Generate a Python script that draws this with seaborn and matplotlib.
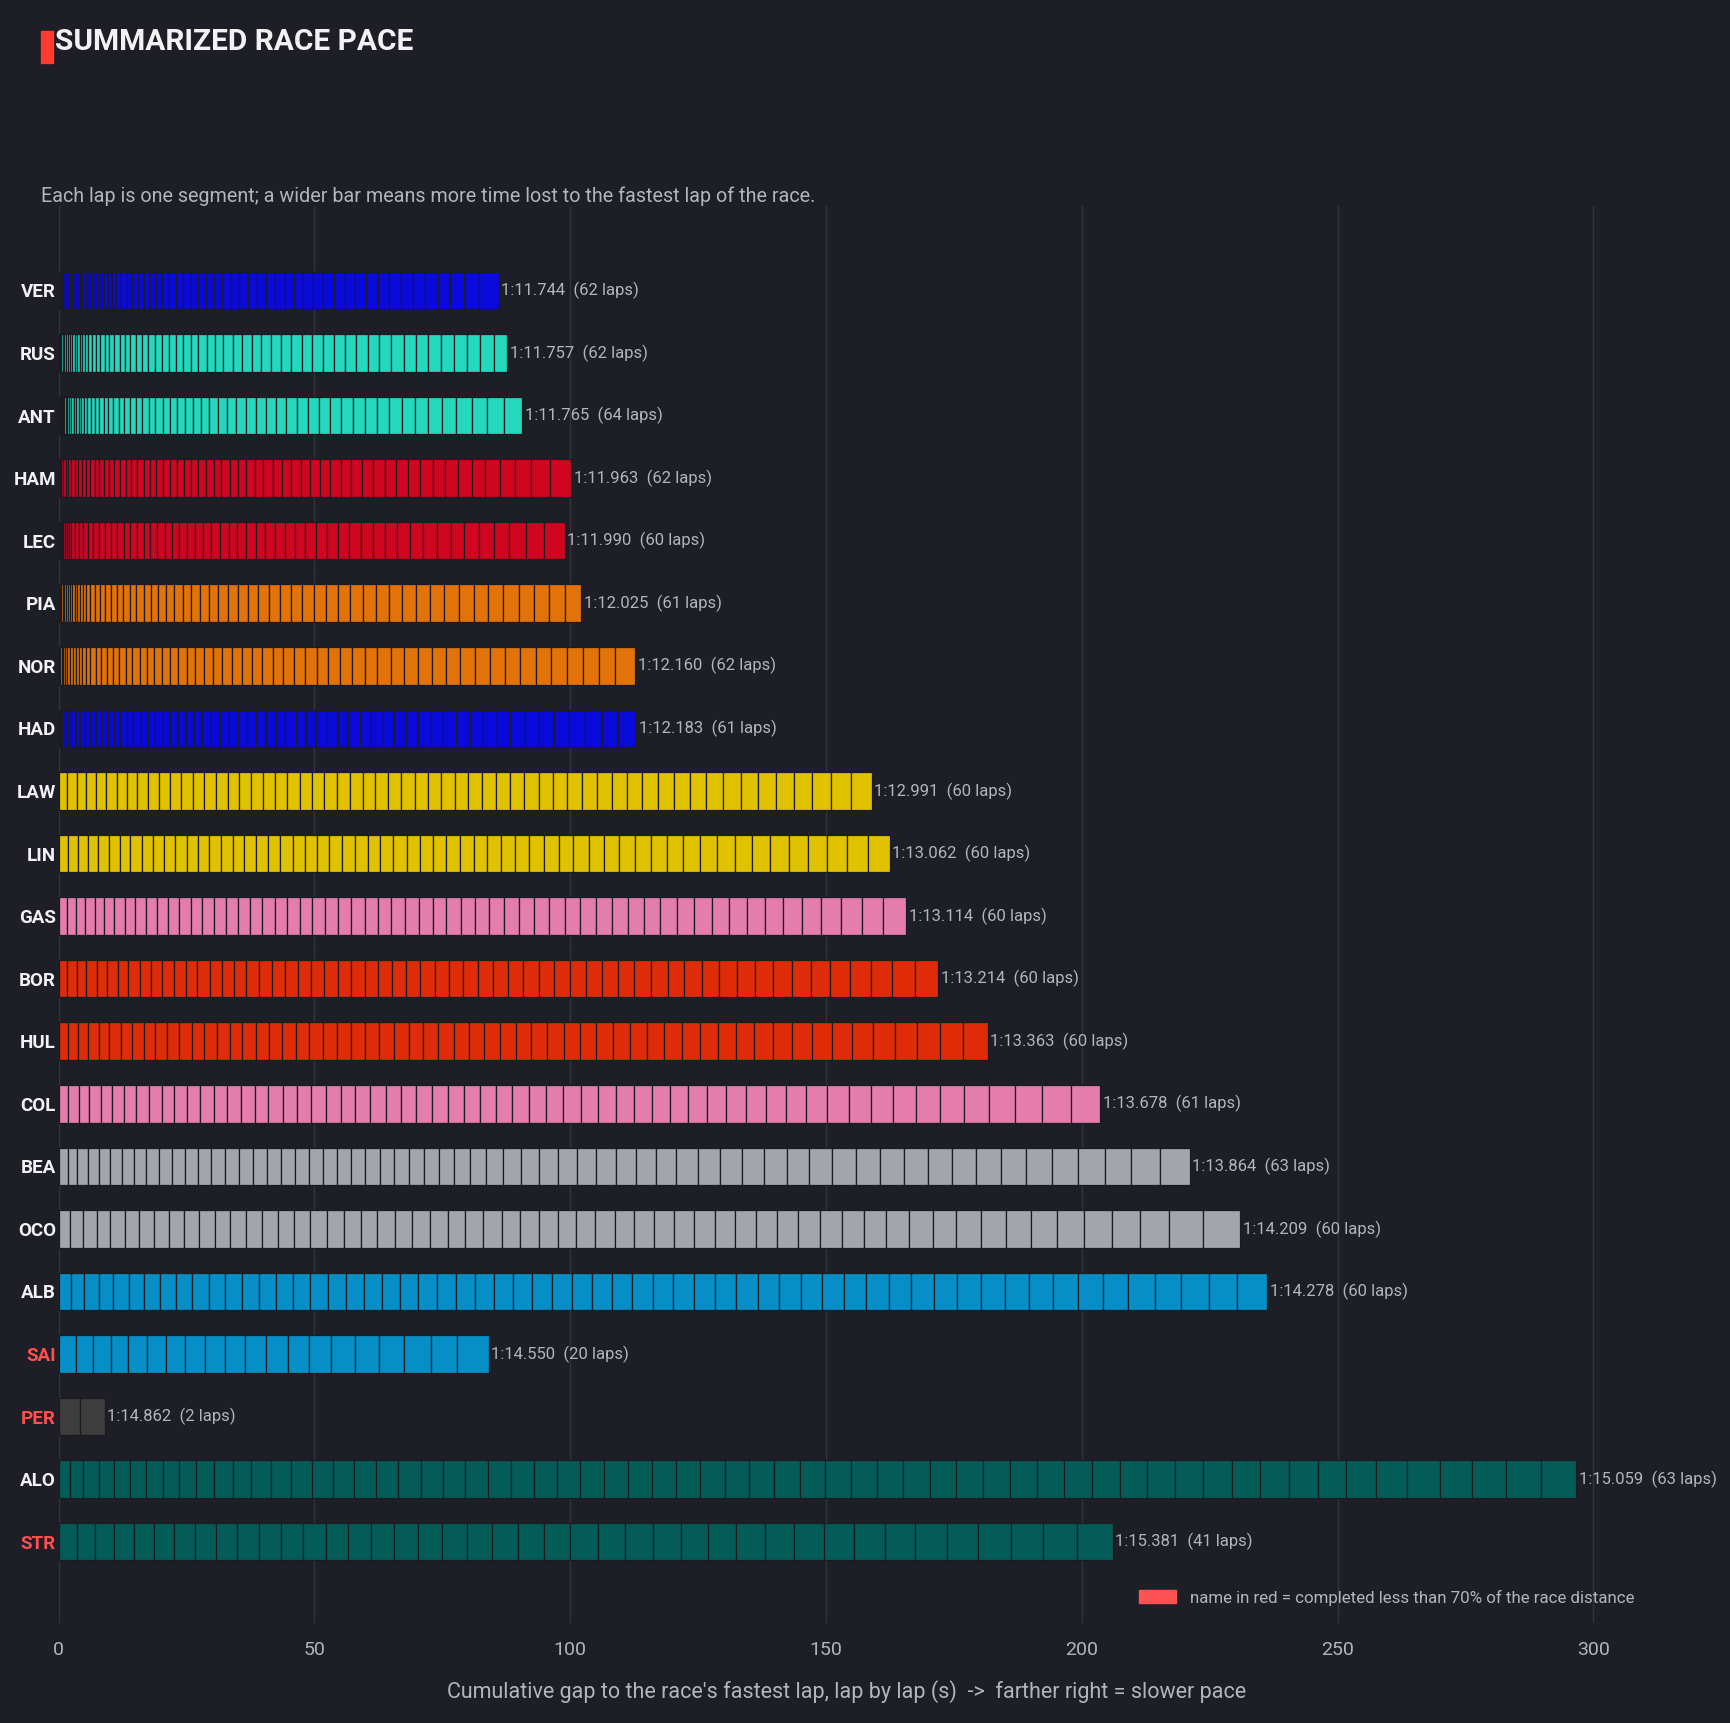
import numpy as np
import matplotlib
matplotlib.use("Agg")
import matplotlib.pyplot as plt
import seaborn as sns
from matplotlib.patches import Patch, Rectangle

# drivers, top to bottom
drivers = ["VER", "RUS", "ANT", "HAM", "LEC", "PIA", "NOR", "HAD", "LAW", "LIN", "GAS",
           "BOR", "HUL", "COL", "BEA", "OCO", "ALB", "SAI", "PER", "ALO", "STR"]
mean_laps = ["1:11.744", "1:11.757", "1:11.765", "1:11.963", "1:11.990", "1:12.025", "1:12.160",
             "1:12.183", "1:12.991", "1:13.062", "1:13.114", "1:13.214", "1:13.363", "1:13.678",
             "1:13.864", "1:14.209", "1:14.278", "1:14.550", "1:14.862", "1:15.059", "1:15.381"]
colors = ["#0a0adc", "#24d8bd", "#24d8bd", "#d00621", "#d00621", "#e2730a", "#e2730a", "#0a0adc",
          "#e0c200", "#e0c200", "#e47cac", "#e02b08", "#e02b08", "#e47cac", "#a2a6ac", "#a2a6ac",
          "#058fc6", "#058fc6", "#3d3d3d", "#035c57", "#035c57"]
short_race = ["SAI", "PER", "STR"]

# gap of every lap to the fastest lap of the race (s)
gaps_ver = [0.26, 0.33, 0.33, 0.33, 0.46, 0.46, 0.46, 0.46, 0.52, 0.52, 0.52, 0.59, 0.59, 0.59, 0.59,
            0.59, 0.59, 0.65, 0.72, 0.78, 0.91, 0.98, 1.04, 1.11, 1.11, 1.17, 1.17, 1.17, 1.17, 1.30,
            1.37, 1.43, 1.50, 1.50, 1.50, 1.50, 1.63, 1.69, 1.69, 1.76, 1.76, 1.76, 1.76, 1.82, 1.82,
            1.82, 1.95, 2.02, 2.08, 2.08, 2.10, 2.15, 2.21, 2.28, 2.28, 2.35, 2.41, 2.41, 2.48, 2.61,
            2.93, 3.91]
gaps_rus = [0.1, 0.2, 0.2, 0.3, 0.3, 0.3, 0.4, 0.4, 0.4, 0.5, 0.5, 0.5, 0.5, 0.6, 0.6, 0.7,
            0.8, 0.8, 0.9, 0.9, 1.0, 1.0, 1.0, 1.1, 1.1, 1.2, 1.2, 1.3, 1.3, 1.4, 1.4, 1.4, 1.5, 1.5,
            1.6, 1.6, 1.7, 1.8, 1.8, 1.9, 1.9, 1.9, 2.0, 2.0, 2.0, 2.1, 2.1, 2.1, 2.2, 2.2, 2.2, 2.3,
            2.3, 2.4, 2.4, 2.4, 2.5, 2.5, 2.6, 2.6, 2.6, 2.7]
gaps_ant = [0.05, 0.05, 0.1, 0.1, 0.1, 0.2, 0.2, 0.3, 0.3, 0.3, 0.4, 0.4, 0.4, 0.5, 0.5, 0.5, 0.6,
            0.6, 0.7, 0.8, 0.8, 0.9, 0.9, 1.0, 1.0, 1.1, 1.1, 1.2, 1.2, 1.3, 1.3, 1.4, 1.4, 1.5, 1.5,
            1.5, 1.6, 1.6, 1.7, 1.8, 1.8, 1.9, 1.9, 2.0, 2.0, 2.0, 2.1, 2.1, 2.1, 2.2, 2.2, 2.3, 2.3,
            2.4, 2.4, 2.5, 2.5, 2.6, 2.7, 2.8, 3.0, 3.1, 3.3, 3.5]
gaps_ham = [0.2, 0.3, 0.4, 0.5, 0.5, 0.6, 0.6, 0.7, 0.7, 0.8, 0.8, 0.9, 0.9, 1.0, 1.0, 1.0, 1.1,
            1.1, 1.1, 1.2, 1.2, 1.2, 1.3, 1.3, 1.3, 1.4, 1.4, 1.4, 1.4, 1.5, 1.5, 1.5, 1.6, 1.6, 1.6,
            1.7, 1.7, 1.8, 1.8, 1.8, 1.9, 1.9, 1.9, 2.0, 2.0, 2.1, 2.1, 2.2, 2.2, 2.3, 2.3, 2.4, 2.4,
            2.5, 2.5, 2.6, 2.7, 2.8, 3.0, 3.2, 3.7, 4.1]
gaps_lec = [0.1, 0.1, 0.2, 0.2, 0.3, 0.3, 0.4, 0.4, 0.5, 0.6, 0.8, 0.9, 1.0, 1.0, 1.1, 1.1, 1.2,
            1.2, 1.3, 1.3, 1.3, 1.3, 1.3, 1.4, 1.4, 1.4, 1.5, 1.5, 1.5, 1.6, 1.6, 1.7, 1.7, 1.7, 1.8,
            1.8, 1.9, 1.9, 1.9, 2.0, 2.0, 2.1, 2.1, 2.2, 2.2, 2.3, 2.3, 2.4, 2.4, 2.5, 2.6, 2.6, 2.7,
            2.7, 2.8, 2.9, 3.1, 3.3, 3.5, 4.0]
gaps_pia = [0.1, 0.2, 0.2, 0.3, 0.3, 0.3, 0.4, 0.4, 0.4, 0.5, 0.5, 0.5, 0.6, 0.6, 0.8, 0.9, 1.0,
            1.1, 1.1, 1.2, 1.2, 1.3, 1.3, 1.4, 1.4, 1.5, 1.5, 1.6, 1.6, 1.7, 1.7, 1.8, 1.8, 1.9, 1.9,
            2.0, 2.0, 2.1, 2.1, 2.2, 2.2, 2.3, 2.3, 2.4, 2.4, 2.5, 2.5, 2.6, 2.6, 2.7, 2.7, 2.8, 2.8,
            2.9, 2.9, 2.9, 3.0, 3.0, 3.0, 3.1, 3.1]
gaps_nor = [0.1, 0.2, 0.3, 0.3, 0.4, 0.4, 0.5, 0.5, 0.6, 0.6, 0.7, 0.7, 0.9, 1.0, 1.1, 1.1, 1.2,
            1.2, 1.3, 1.3, 1.4, 1.4, 1.4, 1.5, 1.6, 1.6, 1.7, 1.7, 1.7, 1.8, 1.8, 1.9, 1.9, 2.0, 2.0,
            2.0, 2.1, 2.1, 2.2, 2.2, 2.2, 2.3, 2.4, 2.5, 2.5, 2.6, 2.6, 2.7, 2.7, 2.8, 2.8, 2.9, 2.9,
            2.9, 3.0, 3.0, 3.0, 3.1, 3.1, 3.2, 3.2, 3.9]
gaps_had = [0.3, 0.4, 0.5, 0.6, 0.7, 0.8, 0.9, 1.0, 1.0, 1.1, 1.1, 1.2, 1.2, 1.2, 1.3, 1.3, 1.4,
            1.4, 1.4, 1.5, 1.5, 1.5, 1.6, 1.6, 1.6, 1.7, 1.7, 1.7, 1.8, 1.8, 1.8, 1.9, 1.9, 1.9, 2.0,
            2.0, 2.0, 2.1, 2.1, 2.1, 2.2, 2.2, 2.3, 2.3, 2.3, 2.4, 2.4, 2.5, 2.5, 2.6, 2.6, 2.7, 2.7,
            2.8, 2.8, 2.9, 3.0, 3.1, 3.2, 3.3, 3.5]
gaps_law = [1.7, 1.8, 1.9, 1.9, 2.0, 2.0, 2.0, 2.1, 2.1, 2.1, 2.2, 2.2, 2.2, 2.2, 2.3, 2.3, 2.3,
            2.3, 2.3, 2.4, 2.4, 2.4, 2.4, 2.4, 2.5, 2.5, 2.5, 2.5, 2.5, 2.6, 2.6, 2.6, 2.6, 2.6, 2.7,
            2.7, 2.7, 2.7, 2.8, 2.8, 2.8, 2.8, 2.9, 2.9, 2.9, 3.0, 3.0, 3.0, 3.1, 3.1, 3.3, 3.3, 3.4,
            3.4, 3.5, 3.5, 3.6, 3.7, 3.8, 4.1]
gaps_lin = [1.8, 1.9, 2.0, 2.0, 2.1, 2.1, 2.1, 2.2, 2.2, 2.2, 2.2, 2.2, 2.2, 2.2, 2.3, 2.3, 2.3,
            2.3, 2.3, 2.4, 2.4, 2.4, 2.4, 2.4, 2.5, 2.5, 2.5, 2.5, 2.5, 2.6, 2.6, 2.6, 2.6, 2.6, 2.7,
            2.7, 2.7, 2.7, 2.8, 2.8, 2.9, 2.9, 3.0, 3.0, 3.0, 3.1, 3.1, 3.1, 3.2, 3.2, 3.4, 3.4, 3.5,
            3.5, 3.6, 3.7, 3.8, 3.9, 4.0, 4.3]
gaps_gas = [1.6, 1.7, 1.8, 1.9, 1.9, 2.0, 2.0, 2.1, 2.1, 2.1, 2.2, 2.2, 2.2, 2.3, 2.3, 2.3, 2.3,
            2.4, 2.4, 2.4, 2.4, 2.5, 2.5, 2.5, 2.5, 2.6, 2.6, 2.6, 2.6, 2.7, 2.7, 2.7, 2.7, 2.8, 2.8,
            2.8, 2.9, 2.9, 2.9, 3.0, 3.0, 3.0, 3.1, 3.1, 3.1, 3.2, 3.2, 3.3, 3.3, 3.4, 3.4, 3.5, 3.5,
            3.6, 3.7, 3.8, 3.9, 4.0, 4.2, 4.5]
gaps_bor = [1.7, 1.8, 1.9, 2.0, 2.0, 2.1, 2.1, 2.2, 2.2, 2.2, 2.3, 2.3, 2.3, 2.4, 2.4, 2.4, 2.4,
            2.5, 2.5, 2.5, 2.5, 2.6, 2.6, 2.6, 2.6, 2.7, 2.7, 2.7, 2.7, 2.8, 2.8, 2.8, 2.8, 2.9, 2.9,
            2.9, 3.0, 3.0, 3.0, 3.1, 3.1, 3.1, 3.2, 3.2, 3.2, 3.3, 3.3, 3.4, 3.4, 3.5, 3.5, 3.6, 3.6,
            3.7, 3.8, 3.9, 4.0, 4.2, 4.4, 4.6]
gaps_hul = [1.8, 1.9, 2.0, 2.1, 2.1, 2.2, 2.2, 2.3, 2.3, 2.3, 2.4, 2.4, 2.4, 2.5, 2.5, 2.5, 2.6,
            2.6, 2.6, 2.6, 2.7, 2.7, 2.7, 2.7, 2.8, 2.8, 2.8, 2.9, 2.9, 2.9, 3.0, 3.0, 3.0, 3.0, 3.1,
            3.1, 3.1, 3.2, 3.2, 3.2, 3.3, 3.3, 3.3, 3.4, 3.4, 3.5, 3.5, 3.6, 3.6, 3.7, 3.7, 3.8, 3.9,
            4.0, 4.1, 4.2, 4.3, 4.5, 4.6, 4.8]
gaps_col = [1.9, 2.0, 2.1, 2.2, 2.3, 2.3, 2.4, 2.4, 2.5, 2.5, 2.5, 2.6, 2.6, 2.6, 2.7, 2.7, 2.7,
            2.8, 2.8, 2.8, 2.8, 2.9, 2.9, 2.9, 3.0, 3.0, 3.0, 3.1, 3.1, 3.1, 3.1, 3.2, 3.2, 3.3, 3.3,
            3.3, 3.4, 3.4, 3.5, 3.5, 3.5, 3.6, 3.6, 3.7, 3.7, 3.8, 3.9, 3.9, 4.0, 4.1, 4.2, 4.3, 4.4,
            4.5, 4.6, 4.7, 4.9, 5.1, 5.3, 5.6, 5.8]
gaps_bea = [1.76, 1.82, 2.15, 2.15, 2.21, 2.28, 2.35, 2.41, 2.54, 2.54, 2.54, 2.54, 2.54, 2.67,
            2.67, 2.74, 2.74, 2.74, 2.74, 2.74, 2.74, 2.74, 2.80, 2.80, 2.80, 2.87, 2.87, 2.93, 2.93,
            2.93, 3.13, 3.19, 3.32, 3.45, 3.52, 3.71, 3.77, 3.71, 3.78, 3.91, 3.91, 4.04, 4.17, 4.30,
            4.30, 4.37, 4.43, 4.43, 4.50, 4.56, 4.69, 4.69, 4.69, 4.69, 4.76, 4.82, 5.02, 5.02, 5.08,
            5.2, 5.2, 5.6, 5.8]
gaps_oco = [2.3, 2.5, 2.6, 2.7, 2.8, 2.8, 2.9, 2.9, 3.0, 3.0, 3.0, 3.0, 3.1, 3.1, 3.1, 3.2, 3.2,
            3.2, 3.3, 3.3, 3.3, 3.4, 3.4, 3.4, 3.5, 3.5, 3.5, 3.6, 3.6, 3.6, 3.7, 3.7, 3.7, 3.8, 3.8,
            3.9, 3.9, 3.9, 4.0, 4.0, 4.1, 4.1, 4.2, 4.2, 4.3, 4.3, 4.4, 4.5, 4.5, 4.6, 4.8, 4.9, 5.0,
            5.1, 5.2, 5.4, 5.6, 5.6, 6.7, 7.3]
gaps_alb = [2.4, 2.6, 2.8, 2.9, 3.0, 3.0, 3.1, 3.1, 3.2, 3.2, 3.2, 3.3, 3.3, 3.3, 3.4, 3.4, 3.4,
            3.5, 3.5, 3.5, 3.6, 3.6, 3.6, 3.7, 3.7, 3.7, 3.8, 3.8, 3.8, 3.9, 3.9, 3.9, 4.0, 4.0, 4.0,
            4.1, 4.1, 4.1, 4.2, 4.2, 4.2, 4.2, 4.3, 4.3, 4.4, 4.4, 4.5, 4.5, 4.6, 4.7, 4.7, 4.8, 4.8,
            4.9, 5.0, 5.1, 5.2, 5.4, 5.6, 5.8]
gaps_sai = [3.32, 3.66, 3.32, 3.49, 3.49, 3.93, 3.75, 3.84, 3.75, 3.93, 4.10, 4.19, 4.19, 4.28,
            4.62, 4.80, 4.89, 5.15, 5.24, 6.11]
gaps_per = [4.19, 4.80]
gaps_alo = [2.14, 2.63, 3.11, 3.21, 3.02, 3.11, 3.21, 3.11, 3.31, 3.60, 3.60, 3.60, 3.79, 3.99,
            4.18, 4.09, 4.09, 4.28, 4.38, 4.47, 4.28, 4.38, 4.38, 4.77, 4.47, 4.47, 4.67, 4.57, 4.67,
            4.47, 4.67, 4.96, 4.86, 4.67, 4.86, 5.06, 4.77, 5.04, 5.06, 5.16, 5.06, 5.25, 5.35, 5.25,
            5.35, 5.25, 5.45, 5.45, 5.25, 5.54, 5.54, 5.64, 5.45, 5.45, 5.64, 5.64, 6.03, 5.84, 6.32,
            6.32, 6.61, 6.81, 7.00]
gaps_str = [3.58, 3.49, 3.93, 3.66, 3.93, 3.93, 4.10, 4.10, 4.28, 4.36, 4.28, 4.19, 4.36, 4.36,
            4.54, 4.62, 4.54, 4.62, 4.89, 4.89, 5.06, 5.06, 5.41, 5.24, 5.41, 5.32, 5.41, 5.4, 5.5,
            5.6, 5.7, 5.8, 5.9, 6.0, 6.0, 6.1, 6.2, 6.3, 6.4, 6.5, 7.1]

lap_gaps = [gaps_ver, gaps_rus, gaps_ant, gaps_ham, gaps_lec, gaps_pia, gaps_nor, gaps_had,
            gaps_law, gaps_lin, gaps_gas, gaps_bor, gaps_hul, gaps_col, gaps_bea, gaps_oco,
            gaps_alb, gaps_sai, gaps_per, gaps_alo, gaps_str]

BG = "#1e1e27"
EDGE = "#1b1b22"
MUTED = "#b4b4be"
RED = "#ff4f4f"
W, H = 1731, 1723

sns.set_theme(style="dark", rc={"axes.facecolor": BG, "figure.facecolor": BG,
                                "axes.edgecolor": BG, "grid.color": "#33333e"})
plt.rcParams['font.family'] = ['Roboto', 'DejaVu Sans']

fig = plt.figure(figsize=(W / 100, H / 100), dpi=100)
x_max = 308
ax = fig.add_axes([58.7 / W, 1 - 1623 / H, x_max * 5.116 / W, (1623 - 206) / H])

for i, gaps in enumerate(lap_gaps):
    g = np.sort(np.asarray(gaps, dtype=float))
    left = np.concatenate([[0], np.cumsum(g)[:-1]])
    ax.barh(np.full(len(g), i), g, left=left, height=0.6, color=colors[i],
            edgecolor=EDGE, linewidth=0.9)
    ax.text(g.sum() + 0.5, i, f"{mean_laps[i]}  ({len(g)} laps)", va="center", ha="left",
            color=MUTED, fontsize=12)

ax.set_xlim(0, x_max)
ax.set_ylim(len(drivers) - 1 + 1.3, -1.35)
ax.set_yticks(range(len(drivers)))
ax.set_yticklabels(drivers, fontsize=13.5, fontweight="bold")
for lbl in ax.get_yticklabels():
    lbl.set_color(RED if lbl.get_text() in short_race else "#f2f2f5")
ax.set_xticks([0, 50, 100, 150, 200, 250, 300])
ax.tick_params(axis="x", colors=MUTED, labelsize=14, length=0, pad=13)
ax.tick_params(axis="y", length=0, pad=2)
ax.grid(axis="x", color="#33333e", linewidth=1)
ax.grid(axis="y", visible=False)
ax.set_axisbelow(True)
for s in ax.spines.values():
    s.set_visible(False)
ax.set_xlabel("Cumulative gap to the race's fastest lap, lap by lap (s)  ->  farther right = slower pace",
              color=MUTED, fontsize=15.5, labelpad=15)

leg = ax.legend(handles=[Patch(color="#ff5252",
                               label="name in red = completed less than 70% of the race distance")],
                loc="center right", bbox_to_anchor=(1.0, 0.018), frameon=False, fontsize=12.2,
                handlelength=2.2, handleheight=0.8, handletextpad=0.8, borderaxespad=0, borderpad=0)
for t in leg.get_texts():
    t.set_color(MUTED)

fig.add_artist(Rectangle((41 / W, 1 - 63 / H), 12 / W, 32 / H, transform=fig.transFigure,
                         color="#ff3b2f"))
fig.text(55 / W, 1 - 42 / H, "SUMMARIZED RACE PACE", color="#f2f2f5", fontsize=21.5,
         fontweight="bold", va="center", ha="left")
fig.text(41 / W, 1 - 196 / H,
         "Each lap is one segment; a wider bar means more time lost to the fastest lap of the race.",
         color=MUTED, fontsize=14.2, va="center", ha="left")

fig.savefig("out.png", dpi=100, facecolor=BG)
